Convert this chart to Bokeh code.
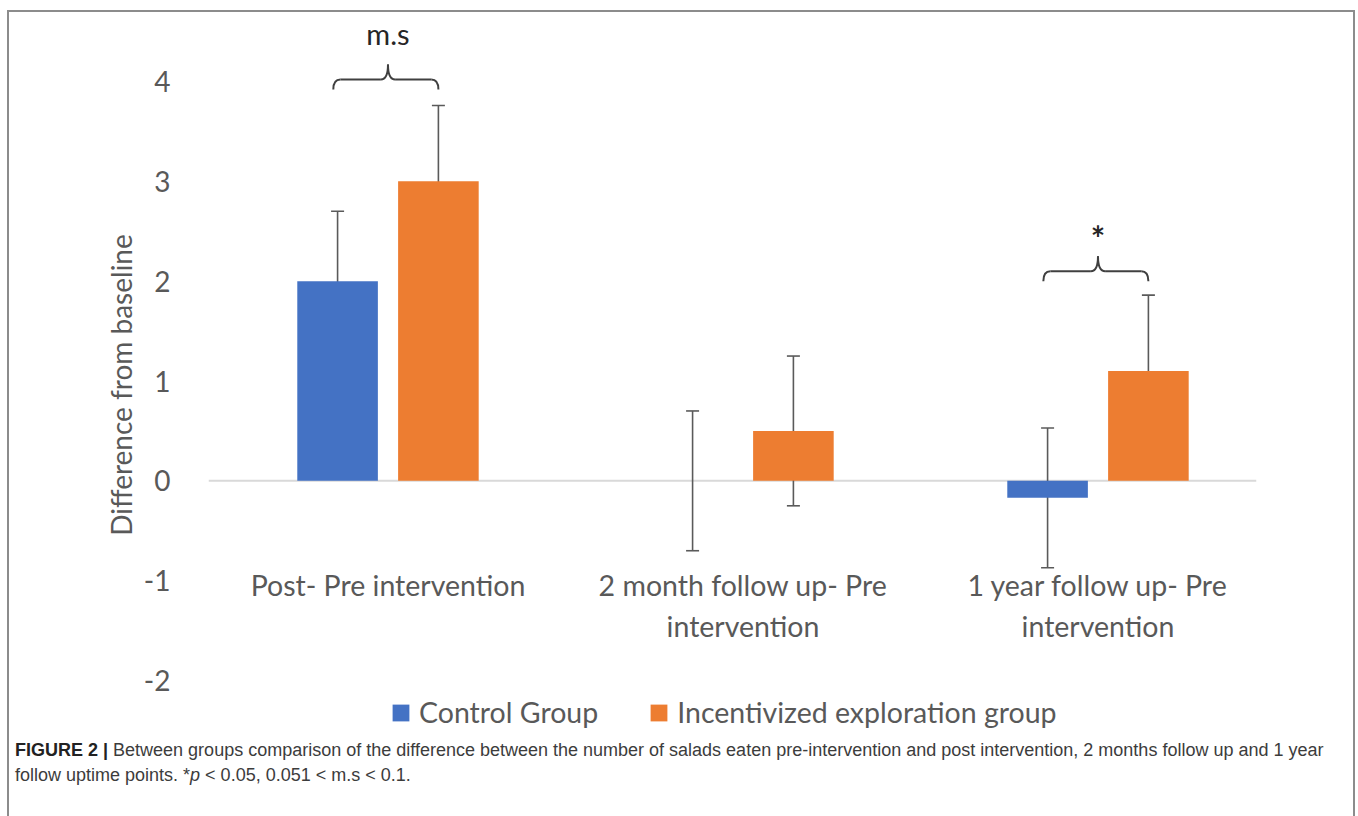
import numpy as np
from bokeh.plotting import figure
from bokeh.models import (ColumnDataSource, Range1d, FixedTicker, Span, Whisker, TeeHead,
                          Legend, LegendItem, Div)
from bokeh.layouts import column
from bokeh.embed import file_html
from bokeh.resources import INLINE
from bokeh.core.properties import value

# ---------------- data ----------------
categories = ["Post- Pre intervention",
              "2 month follow up- Pre\nintervention",
              "1 year follow up- Pre\nintervention"]
series_names = ["Control Group", "Incentivized exploration group"]
control_mean = [2.0, 0.0, -0.17]
control_err = [0.70, 0.70, 0.70]
incent_mean = [3.0, 0.5, 1.10]
incent_err = [0.76, 0.75, 0.76]
y_ticks = [-2, -1, 0, 1, 2, 3, 4]
sig_groups = [0, 2]
sig_labels = ["m.s", "*"]

# ---------------- style / annotation constants ----------------
FONT = "Lato"
BLUE = "#4472C4"
ORANGE = "#ED7D31"
GRAY_TXT = "#595959"
ERR_COL = "#5a5a5a"
OFF = 0.142
BW = 0.227
bracket_height = [4.02, 2.10]
sig_text_y = [4.485, 2.44]
sig_text_size = ["29px", "34px"]
sig_text_style = ["normal", "bold"]

idx = np.arange(len(categories))
src = ColumnDataSource(dict(
    xc=idx - OFF, xi=idx + OFF,
    c=control_mean, i=incent_mean,
    c_up=np.array(control_mean) + np.array(control_err),
    c_lo=np.array(control_mean) - np.array(control_err),
    i_up=np.array(incent_mean) + np.array(incent_err),
    i_lo=np.array(incent_mean) - np.array(incent_err),
))

p = figure(width=1344, height=745, output_backend="svg", toolbar_location=None,
           x_range=Range1d(-0.5056, 2.4465), y_range=Range1d(-2.771, 4.691),
           min_border_left=199, min_border_right=97, min_border_top=0, min_border_bottom=0)
p.outline_line_color = None
p.xgrid.visible = False
p.ygrid.visible = False
p.xaxis.visible = False

ya = p.yaxis[0]
ya.ticker = FixedTicker(ticks=y_ticks)
ya.major_label_overrides = {t: str(t) for t in y_ticks}
ya.major_tick_line_color = None
ya.minor_tick_line_color = None
ya.axis_line_color = None
ya.major_label_standoff = 32
ya.major_label_text_font = FONT
ya.major_label_text_font_size = "28px"
ya.major_label_text_color = GRAY_TXT
ya.axis_label = "Difference from baseline"
ya.axis_label_text_font = FONT
ya.axis_label_text_font_size = "28px"
ya.axis_label_text_font_style = "normal"
ya.axis_label_text_color = GRAY_TXT
ya.axis_label_standoff = 3

zero = Span(location=0, dimension="width", line_color="#D9D9D9", line_width=2, level="underlay")
p.add_layout(zero)

rc = p.vbar(x="xc", top="c", bottom=0, width=BW, source=src, fill_color=BLUE, line_color=None)
ri = p.vbar(x="xi", top="i", bottom=0, width=BW, source=src, fill_color=ORANGE, line_color=None)

for base, up, lo in (("xc", "c_up", "c_lo"), ("xi", "i_up", "i_lo")):
    w = Whisker(source=src, base=base, upper=up, lower=lo, line_color=ERR_COL, line_width=1.6,
                upper_head=TeeHead(size=13, line_color=ERR_COL, line_width=1.6),
                lower_head=TeeHead(size=13, line_color=ERR_COL, line_width=1.6))
    p.add_layout(w)

# significance brackets (curly braces)
BR_COL = "#404040"
drop, rise, r = 0.10, 0.15, 0.02
for g, yh, lab, ty, ts, tst in zip(sig_groups, bracket_height, sig_labels, sig_text_y,
                                   sig_text_size, sig_text_style):
    xl, xr, xm = g - OFF - 0.012, g + OFF, g
    p.quadratic(x0=[xl, xm - r, xm + r, xr - r], y0=[yh - drop, yh, yh, yh],
                x1=[xl + r, xm, xm, xr], y1=[yh, yh + rise, yh + rise, yh - drop],
                cx=[xl, xm, xm, xr], cy=[yh, yh, yh, yh],
                line_color=BR_COL, line_width=2)
    p.segment(x0=[xl + r, xm + r], y0=[yh, yh], x1=[xm - r, xr - r], y1=[yh, yh],
              line_color=BR_COL, line_width=2)
    p.text(x=[xm], y=[ty], text=[lab], text_align="center", text_baseline="alphabetic",
           text_font=value(FONT), text_font_size=ts, text_font_style=tst, text_color="#262626")

# category labels
p.text(x=idx, y=-0.87, text=categories, text_align="center", text_baseline="top",
       text_font=value(FONT), text_font_size="28.5px", text_color=GRAY_TXT,
       text_line_height=1.2)

legend = Legend(items=[LegendItem(label=series_names[0], renderers=[rc]),
                       LegendItem(label=series_names[1], renderers=[ri])],
                orientation="horizontal", location=(182, 28),
                border_line_color=None, background_fill_alpha=0,
                label_text_font=FONT, label_text_font_size="28.5px", label_text_color=GRAY_TXT,
                glyph_width=21, glyph_height=21, label_standoff=8, spacing=50,
                padding=0, margin=0)
p.add_layout(legend)

caption_html = (
    "<div style=\"font-family:'Liberation Sans',Arial,sans-serif;font-size:18px;"
    "line-height:25px;color:#3c3c3c;white-space:nowrap;padding-left:1px;padding-top:3px\">"
    "<b style=\"color:#222\">FIGURE 2 |</b> Between groups comparison of the difference between the "
    "number of salads eaten pre-intervention and post intervention, 2 months follow up and 1 year<br>"
    "follow uptime points. *<i>p</i> &lt; 0.05, 0.051 &lt; m.s &lt; 0.1.</div>"
)
caption = Div(text=caption_html, width=1344, height=81, styles={"margin-top": "-22px"})

layout = column(p, caption, width=1344,
                styles={"outline": "2px solid #8c8c8c", "width": "1344px", "max-width": "1344px",
                        "box-sizing": "content-box",
                        "margin-left": "9px", "margin-top": "12px"})

open("out.html", "w").write(file_html(layout, INLINE))
